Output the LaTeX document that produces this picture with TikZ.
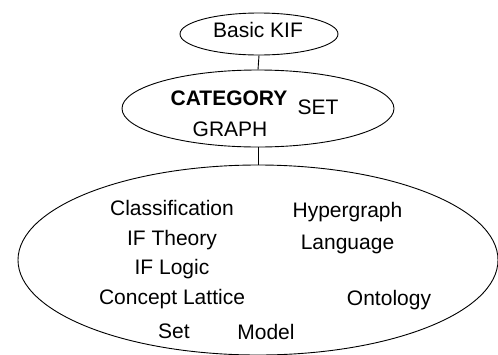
\documentclass[tikz,border=0pt]{standalone}
\usepackage{fontspec}
\setmainfont{Liberation Sans}
\usetikzlibrary{shapes.geometric}
\begin{document}
\begin{tikzpicture}[x=1pt,y=-1pt,line width=0.9pt,
        oval/.style={draw,ellipse,inner sep=0pt},
        word/.style={inner sep=0pt,anchor=base,font=\fontsize{21}{25}\selectfont}]
    \useasboundingbox (0,0) rectangle (498,354);
    % the three ovals
    \node[oval,minimum width=158pt,minimum height=42pt] (kif) at (259,34) {};
    \node[oval,minimum width=272pt,minimum height=77pt] (cat) at (258,108.5) {};
    \node[oval,minimum width=480pt,minimum height=190pt] (inst) at (258,260) {};
    \draw (kif.south) -- (cat.north);
    \draw (cat.south) -- (inst.north);
    % top
    \node[word] (basic) at (258,37.5) {Basic KIF};
    % middle
    \node[word,font=\fontsize{21}{25}\selectfont\bfseries] (category) at (229,105) {CATEGORY};
    \node[word] (set) at (318,114.5) {SET};
    \node[word] (graph) at (230,136) {GRAPH};
    % bottom, left column
    \node[word] (classif) at (172,215) {Classification};
    \node[word] (iftheory) at (172,245) {IF Theory};
    \node[word] (iflogic) at (172,274) {IF Logic};
    \node[word] (lattice) at (172,304) {Concept Lattice};
    \node[word] (set2) at (174,338.5) {Set};
    \node[word] (model) at (266,339.5) {Model};
    % bottom, right column
    \node[word] (hyper) at (347.5,217.5) {Hypergraph};
    \node[word] (lang) at (347.5,249.5) {Language};
    \node[word] (onto) at (389,305) {Ontology};
\end{tikzpicture}
\end{document}
